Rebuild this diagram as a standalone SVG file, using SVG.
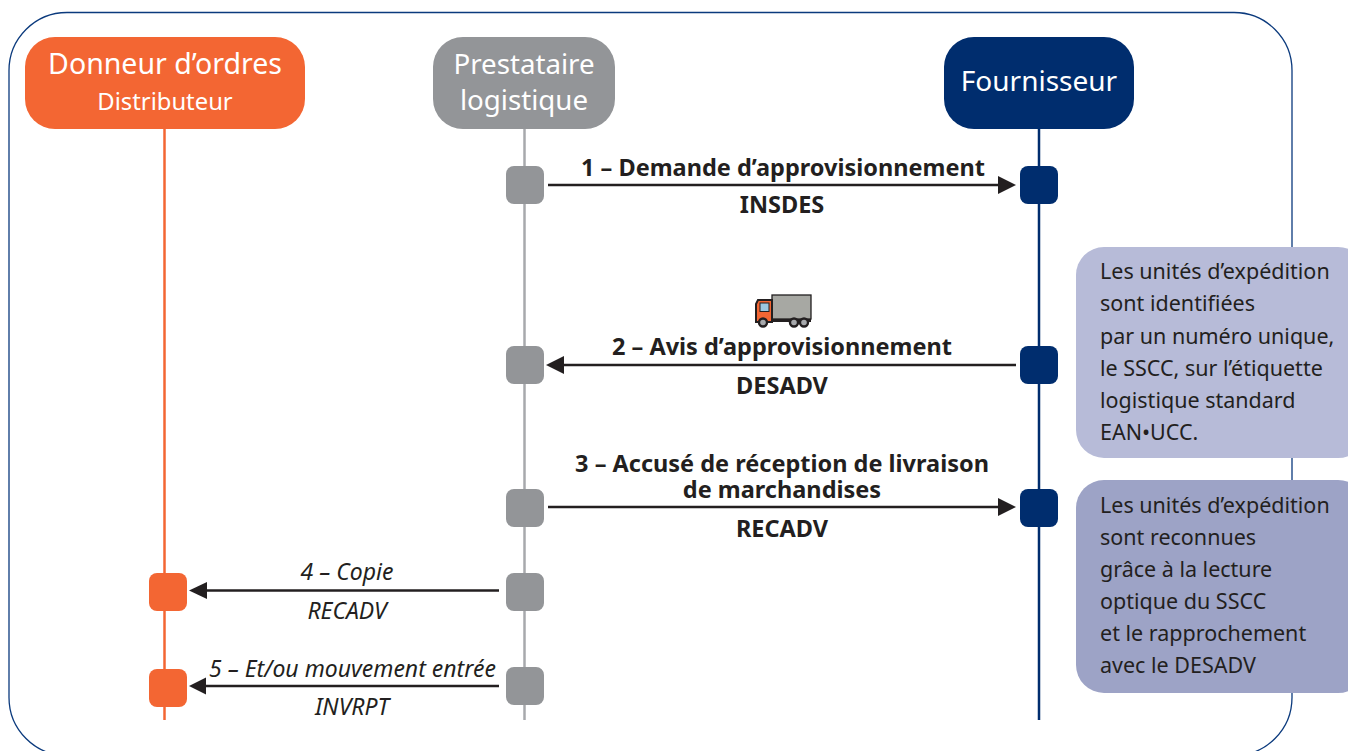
<svg xmlns="http://www.w3.org/2000/svg" width="1348" height="751" viewBox="0 0 1348 751">
<style>
text{font-family:"Noto Sans","Open Sans","Liberation Sans",sans-serif;fill:#231f20;text-anchor:middle}
.h{fill:#fff;font-size:28px}
.b{font-weight:700;font-size:23.500px}
.i{font-style:italic;font-size:23px}
.n{font-size:21.500px;text-anchor:start}
.arrow{stroke:#231f20;stroke-width:2.700;fill:none}
.head{fill:#231f20}
.o{fill:#f36633}.g{fill:#939598}.d{fill:#002d6e}
.tk{stroke:#231f20;stroke-width:2}
.wh{fill:#a7a9ac;stroke:#231f20;stroke-width:2.400}
</style>
<rect x="9" y="12.5" width="1283" height="743" rx="58" fill="#fff" stroke="#0b3a7d" stroke-width="1.300"/>
<g id="connectors">
<line x1="164.500" y1="125" x2="164.500" y2="720" stroke="#f36633" stroke-width="2.500"/>
<line x1="524.500" y1="125" x2="524.500" y2="720" stroke="#a7a9ac" stroke-width="2.500"/>
<line x1="1039" y1="125" x2="1039" y2="720" stroke="#002d6e" stroke-width="2.500"/>
<g id="a1"><line class="arrow" x1="548" y1="185" x2="1000" y2="185"/><polygon class="head" points="998,176 1016,185 998,194"/></g>
<g id="a2"><line class="arrow" x1="1016" y1="365" x2="562" y2="365"/><polygon class="head" points="564,356 546,365 564,374"/></g>
<g id="a3"><line class="arrow" x1="548" y1="507" x2="1000" y2="507"/><polygon class="head" points="998,498 1016,507 998,516"/></g>
<g id="a4"><line class="arrow" x1="499" y1="590.500" x2="205" y2="590.500"/><polygon class="head" points="207,582 189,590.500 207,599"/></g>
<g id="a5"><line class="arrow" x1="499" y1="686" x2="205" y2="686"/><polygon class="head" points="206,677.500 189,686 206,694.500"/></g>
</g>
<g id="node-donneur"><rect class="o" x="25" y="37" width="280" height="92" rx="30"/><text class="h" x="165" y="74" style="font-size:28.500px">Donneur d’ordres</text><text x="165" y="110" style="fill:#fff;font-size:23.800px">Distributeur</text></g>
<g id="node-prestataire"><rect x="433" y="37" width="182" height="92" rx="30" fill="#939598"/><text class="h" x="524" y="74" style="font-size:27.700px">Prestataire</text><text class="h" x="524" y="110" style="font-size:27.700px">logistique</text></g>
<g id="node-fournisseur"><rect class="d" x="944" y="37" width="190" height="92" rx="30"/><text class="h" x="1039" y="91">Fournisseur</text></g>
<g id="bars">
<rect class="g" x="506" y="166" width="38" height="38" rx="8"/>
<rect class="g" x="506" y="346" width="38" height="38" rx="8"/>
<rect class="g" x="506" y="489" width="38" height="38" rx="8"/>
<rect class="g" x="506" y="573" width="38" height="38" rx="8"/>
<rect class="g" x="506" y="667" width="38" height="38" rx="8"/>
<rect class="d" x="1020" y="166" width="38" height="38" rx="8"/>
<rect class="d" x="1020" y="346" width="38" height="38" rx="8"/>
<rect class="d" x="1020" y="489" width="38" height="38" rx="8"/>
<rect class="o" x="149" y="573" width="38" height="38" rx="8"/>
<rect class="o" x="149" y="669" width="38" height="38" rx="8"/>
</g>
<g id="labels">
<text class="b" x="783" y="176">1 – Demande d’approvisionnement</text>
<text class="b" x="782" y="213">INSDES</text>
<text class="b" x="782" y="355">2 – Avis d’approvisionnement</text>
<text class="b" x="782" y="394">DESADV</text>
<text class="b"><tspan x="782" y="472">3 – Accusé de réception de livraison</tspan><tspan x="782" y="498">de marchandises</tspan></text>
<text class="b" x="782" y="537">RECADV</text>
<text class="i" x="347" y="580">4 – Copie</text>
<text class="i" x="347" y="619">RECADV</text>
<text class="i" x="352.500" y="677">5 – Et/ou mouvement entrée</text>
<text class="i" x="352" y="715">INVRPT</text>
</g>
<g id="truck">
<rect x="772" y="295" width="39" height="24" fill="#a7a8a3" stroke="#231f20" stroke-width="1.300"/>
<rect x="772" y="319" width="39" height="3" fill="#231f20"/>
<path d="M756,322V304l2,-4h14v22z" fill="#f36633" class="tk"/>
<rect x="760" y="303" width="9" height="8.500" fill="#9cc8e0" stroke="#231f20" stroke-width="1"/>
<circle cx="763" cy="322.500" r="4" class="wh"/>
<circle cx="794" cy="322.500" r="4" class="wh"/>
<circle cx="804" cy="322.500" r="4" class="wh"/>
</g>
<g id="note-1"><rect x="1076" y="247" width="290" height="211" rx="28" fill="#b7bbd8"/>
<text class="n" x="1100" y="279">Les unités d’expédition</text><text class="n" x="1100" y="311">sont identifiées</text><text class="n" x="1100" y="344">par un numéro unique,</text><text class="n" x="1100" y="376">le SSCC, sur l’étiquette</text><text class="n" x="1100" y="408">logistique standard</text><text class="n" x="1100" y="440">EAN•UCC.</text></g>
<g id="note-2"><rect x="1076" y="480" width="290" height="213" rx="28" fill="#9da3c6"/>
<text class="n" x="1100" y="513">Les unités d’expédition</text><text class="n" x="1100" y="545">sont reconnues</text><text class="n" x="1100" y="577">grâce à la lecture</text><text class="n" x="1100" y="609">optique du SSCC</text><text class="n" x="1100" y="641">et le rapprochement</text><text class="n" x="1100" y="673">avec le DESADV</text></g>
</svg>
